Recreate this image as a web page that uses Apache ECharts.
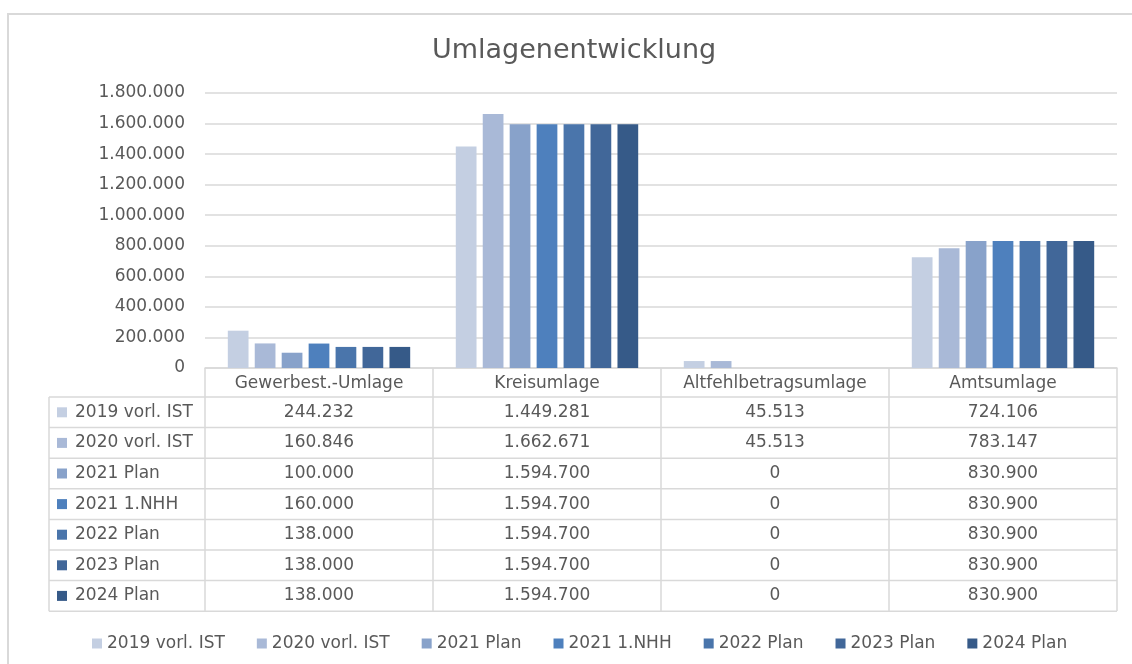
<!DOCTYPE html>
<html><head><meta charset="utf-8">
<script src="https://cdn.jsdelivr.net/npm/echarts@6/dist/echarts.min.js"></script>
<style>html,body{margin:0;padding:0;background:#fff}#c{width:1132px;height:664px}</style>
</head><body><div id="c"></div>
<script>
// ---- data ----
const categories = ['Gewerbest.-Umlage', 'Kreisumlage', 'Altfehlbetragsumlage', 'Amtsumlage'];
const seriesNames = ['2019 vorl. IST', '2020 vorl. IST', '2021 Plan', '2021 1.NHH', '2022 Plan', '2023 Plan', '2024 Plan'];
const v2019 = [244232, 1449281, 45513, 724106];
const v2020 = [160846, 1662671, 45513, 783147];
const v2021Plan = [100000, 1594700, 0, 830900];
const v2021NHH = [160000, 1594700, 0, 830900];
const v2022 = [138000, 1594700, 0, 830900];
const v2023 = [138000, 1594700, 0, 830900];
const v2024 = [138000, 1594700, 0, 830900];
const seriesValues = [v2019, v2020, v2021Plan, v2021NHH, v2022, v2023, v2024];
const yMin = 0, yMax = 1800000, yStep = 200000;

// ---- style ----
const colors = ['#c4cfe2', '#a9b9d7', '#88a2ca', '#4e80bd', '#4a75ab', '#416799', '#365a88'];
const FONT = 'DejaVu Sans';
const TXT = '#595959';
const LINE = '#d9d9d9';

function fmt(v) { return String(Math.round(v)).replace(/\B(?=(\d{3})+(?!\d))/g, '.'); }

const chart = echarts.init(document.getElementById('c'), null, { renderer: 'canvas' });
const option = {
  animation: false,
  backgroundColor: '#fff',
  title: {
    text: 'Umlagenentwicklung', left: 427, top: 32,
    textStyle: { fontFamily: FONT, fontSize: 27, fontWeight: 'normal', color: TXT }
  },
  grid: { left: 205, right: 15, top: 93, bottom: 296, containLabel: false },
  legend: {
    data: seriesNames, left: 87, top: 630, icon: 'rect', itemWidth: 10, itemHeight: 10, itemGap: 32,
    textStyle: { fontFamily: FONT, fontSize: 17, color: TXT }
  },
  xAxis: {
    type: 'category', data: categories,
    axisLine: { lineStyle: { color: LINE, width: 1.5 } },
    axisTick: { show: true, interval: 0, length: 243, lineStyle: { color: LINE, width: 1.5 } },
    axisLabel: { interval: 0, margin: 7, fontFamily: FONT, fontSize: 17, color: TXT }
  },
  yAxis: {
    type: 'value', min: yMin, max: yMax, interval: yStep,
    axisLine: { show: false }, axisTick: { show: false },
    splitLine: { lineStyle: { color: LINE, width: 1.5 } },
    axisLabel: { margin: 20, fontFamily: FONT, fontSize: 17, color: TXT, formatter: fmt }
  },
  series: seriesNames.map((n, i) => ({
    name: n, type: 'bar', data: seriesValues[i], barGap: '30%', barCategoryGap: '20%',
    itemStyle: { color: colors[i] }
  }))
};
chart.setOption(option);

// ---- data table below the axis ----
const c0 = chart.convertToPixel({ xAxisIndex: 0 }, 0);
const c1 = chart.convertToPixel({ xAxisIndex: 0 }, 1);
const catW = c1 - c0;
const xRightGrid = chart.convertToPixel({ xAxisIndex: 0 }, categories.length - 1) + catW / 2;
const yAxis0 = chart.convertToPixel({ yAxisIndex: 0 }, 0);
const headerH = 29, rowH = 30.6, tableLeft = 49;
const rowTop = yAxis0 + headerH;
const g = [];
for (let k = 0; k <= seriesNames.length; k++) {
  const y = rowTop + k * rowH;
  g.push({ type: 'line', shape: { x1: tableLeft, y1: y, x2: xRightGrid, y2: y }, style: { stroke: LINE, lineWidth: 1.5 }, silent: true });
}
g.push({ type: 'line', shape: { x1: tableLeft, y1: rowTop, x2: tableLeft, y2: rowTop + seriesNames.length * rowH }, style: { stroke: LINE, lineWidth: 1.5 }, silent: true });
seriesNames.forEach((n, i) => {
  const cy = rowTop + i * rowH + rowH / 2;
  g.push({ type: 'rect', shape: { x: 57, y: cy - 5, width: 10, height: 10 }, style: { fill: colors[i] }, silent: true });
  g.push({ type: 'text', x: 75, y: cy, style: { text: n, fontFamily: FONT, fontSize: 17, fill: TXT, verticalAlign: 'middle', align: 'left' }, silent: true });
  categories.forEach((cat, j) => {
    const cx = chart.convertToPixel({ xAxisIndex: 0 }, j);
    g.push({ type: 'text', x: cx, y: cy, style: { text: fmt(seriesValues[i][j]), fontFamily: FONT, fontSize: 17, fill: TXT, verticalAlign: 'middle', align: 'center' }, silent: true });
  });
});
// outer chart border
g.push({ type: 'rect', shape: { x: 8, y: 14, width: 1300, height: 800 }, style: { fill: null, stroke: LINE, lineWidth: 2 }, silent: true, z: 100 });
chart.setOption({ graphic: g });
</script>
</body></html>
